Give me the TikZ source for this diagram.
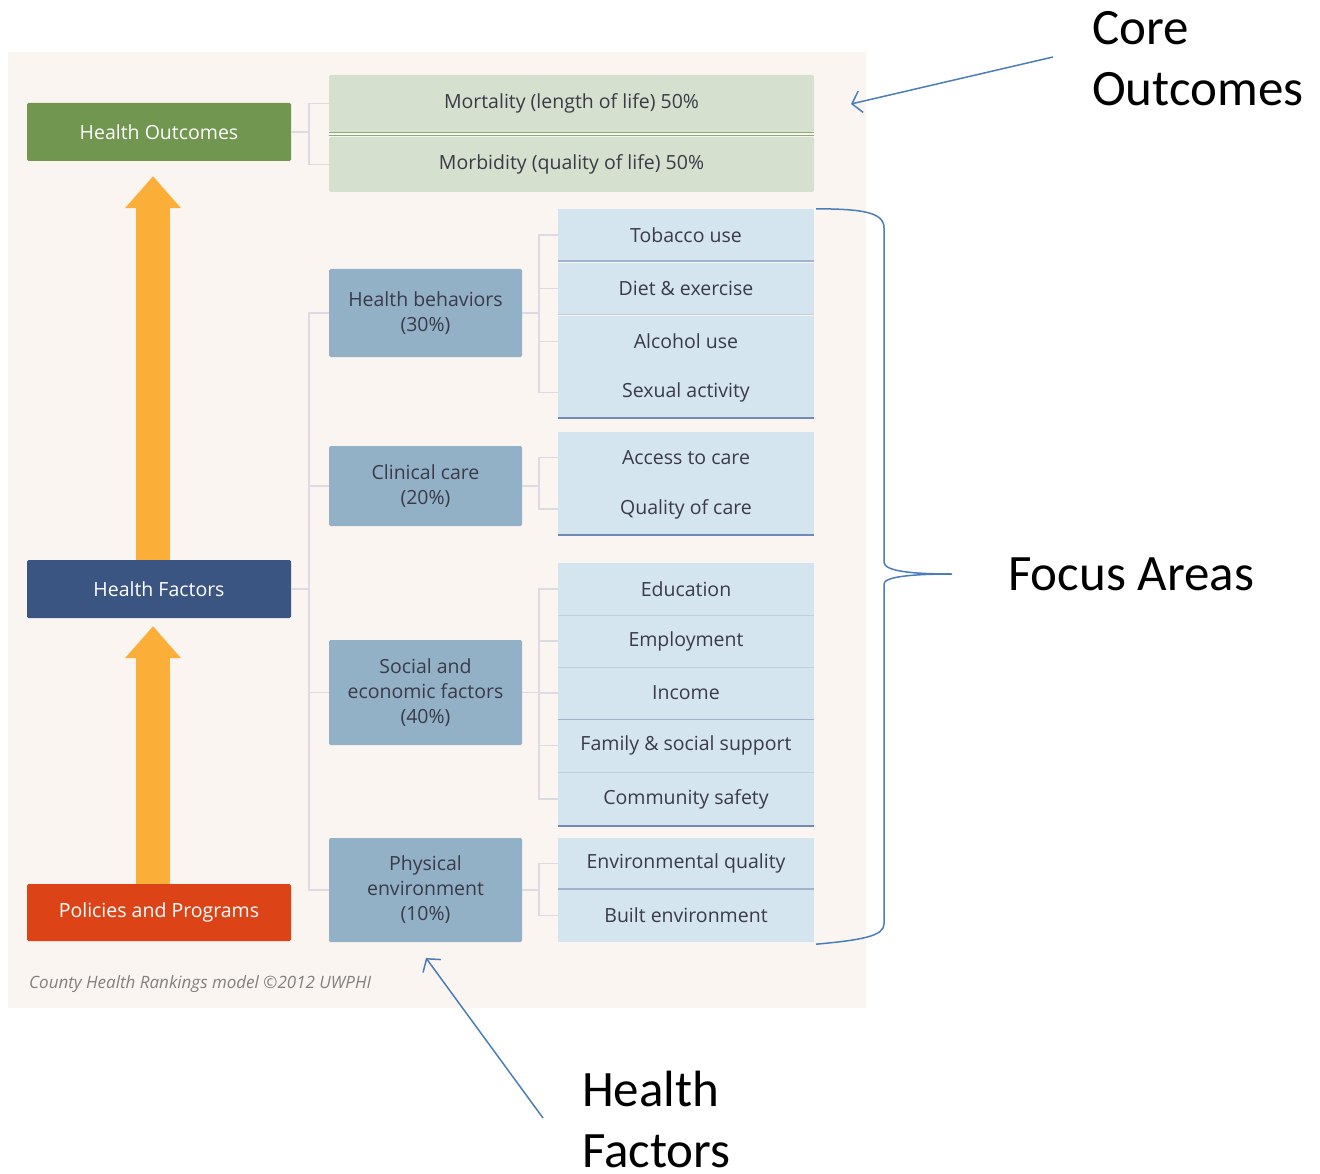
\documentclass[tikz,border=0pt]{standalone}
\usepackage{fontspec}
\setmainfont{Open Sans}
\newfontfamily\callab{Carlito}
\usetikzlibrary{arrows.meta}
\definecolor{bgc}{HTML}{FBF5F1}
\definecolor{outc}{HTML}{71964F}
\definecolor{factc}{HTML}{3B5583}
\definecolor{polc}{HTML}{DC4418}
\definecolor{orng}{HTML}{FBAE38}
\definecolor{greenl}{HTML}{D6E0CE}
\definecolor{greensep}{HTML}{8DAA7B}
\definecolor{midc}{HTML}{93B1C6}
\definecolor{itemc}{HTML}{D5E5EF}
\definecolor{txtc}{HTML}{3A3A48}
\definecolor{connc}{HTML}{DCDBE3}
\definecolor{sepfaint}{HTML}{C5CFDA}
\definecolor{sepmid}{HTML}{A3B1CC}
\definecolor{sepblue}{HTML}{7189B7}
\definecolor{annc}{HTML}{4A7EBB}
\definecolor{footc}{HTML}{808080}
\newcommand\fsz[2]{\fontsize{#1}{#2}\selectfont}
\begin{document}
\begin{tikzpicture}[x=1pt,y=-1pt,
  box/.style={rounded corners=1.5pt, inner sep=0pt, align=center, font=\fsz{19.5}{25}},
  leftbox/.style={box, minimum width=264pt, minimum height=58pt, text=white},
  greenbox/.style={box, fill=greenl, minimum width=485pt, text=txtc},
  midbox/.style={box, fill=midc, minimum width=193pt, text=txtc},
  itembox/.style={box, rounded corners=0pt, fill=itemc, minimum width=256pt, text=txtc},
  conn/.style={draw=connc, line width=1.4pt},
  sepfa/.style={draw=sepfaint, line width=1.2pt},
  sepmd/.style={draw=sepmid, line width=2pt},
  sepbl/.style={draw=sepblue, line width=1.6pt},
  bigarr/.style={draw=orng, line width=34pt, -{Triangle[length=32pt,width=54pt]}},
  annot/.style={draw=annc, line width=1.5pt, -{Straight Barb[length=9pt,width=22pt,line width=1.5pt]}},
  bigtxt/.style={font=\callab\fsz{51}{61}, text=black, inner sep=0pt, align=left}
]
\useasboundingbox (0,0) rectangle (1320,1174);
\fill[bgc] (8,52) rectangle (866,1008);

% left column
\node[leftbox, fill=outc] (ho) at (159,132) {Health Outcomes};
\node[leftbox, fill=factc] (hf) at (159,589) {Health Factors};
\node[leftbox, fill=polc, minimum height=57pt] (pp) at (159,912.5) {Policies and Programs};

% outcomes
\node[greenbox, minimum height=57pt] (mort) at (571.5,103.5) {Mortality (length of life) 50\%};
\node[greenbox, minimum height=55pt] (morb) at (571.5,164.5) {Morbidity (quality of life) 50\%};
\draw[draw=greensep, line width=1.2pt] ([yshift=-0.5pt]mort.south west) -- ([yshift=-0.5pt]mort.south east);
\draw[draw=greensep, line width=1.2pt] ([yshift=1pt]morb.north west) -- ([yshift=1pt]morb.north east);

% factor categories
\node[midbox, minimum height=88pt] (hb) at (425.5,313) {Health behaviors\\(30\%)};
\node[midbox, minimum height=80pt] (cc) at (425.5,486) {Clinical care\\(20\%)};
\node[midbox, minimum height=105pt] (se) at (425.5,692.5) {Social and\\economic factors\\(40\%)};
\node[midbox, minimum height=104pt] (pe) at (425.5,890) {Physical\\environment\\(10\%)};

% items
\node[itembox, minimum height=52pt] (tob) at (686,235) {Tobacco use};
\node[itembox, minimum height=51pt] (diet) at (686,288.5) {Diet \& exercise};
\node[itembox, minimum height=51pt] (alc) at (686,341.5) {Alcohol use};
\node[itembox, minimum height=51pt] (sex) at (686,392.5) {Sexual activity};
\node[itembox, minimum height=51pt] (acc) at (686,457.5) {Access to care};
\node[itembox, minimum height=52pt] (qual) at (686,509) {Quality of care};
\node[itembox, minimum height=52pt] (edu) at (686,589) {Education};
\node[itembox, minimum height=52pt] (emp) at (686,641) {Employment};
\node[itembox, minimum height=52pt] (inc) at (686,693) {Income};
\node[itembox, minimum height=53pt] (fam) at (686,745.5) {Family \& social support};
\node[itembox, minimum height=54pt] (com) at (686,799) {Community safety};
\node[itembox, minimum height=51pt] (envq) at (686,863.5) {Environmental quality};
\node[itembox, minimum height=53pt] (built) at (686,915.5) {Built environment};

% separators
\draw[sepmd] (tob.south west) -- (tob.south east);
\draw[sepfa] (diet.south west) -- (diet.south east);
\draw[sepbl] (sex.south west) -- (sex.south east);
\draw[sepbl] (qual.south west) -- (qual.south east);
\draw[sepfa] (edu.south west) -- (edu.south east);
\draw[sepfa] (emp.south west) -- (emp.south east);
\draw[sepmd, line width=1.2pt] (inc.south west) -- (inc.south east);
\draw[sepfa] (fam.south west) -- (fam.south east);
\draw[sepbl] (com.south west) -- (com.south east);
\draw[sepmd] (envq.south west) -- (envq.south east);

% tree connectors
\draw[conn] (ho.east) -- ++(18,0);
\draw[conn] (mort.west) -- ++(-20,0) |- (morb.west);
\draw[conn] (hf.east) -- ++(18,0);
\draw[conn] (hb.west) -- ++(-20,0) |- (pe.west);
\draw[conn] (cc.west) -- ++(-20,0);
\draw[conn] (se.west) -- ++(-20,0);
\draw[conn] (hb.east) -- ++(17,0);
\draw[conn] (tob.west) -- ++(-19,0) |- (sex.west);
\draw[conn] (diet.west) -- ++(-19,0);
\draw[conn] (alc.west) -- ++(-19,0);
\draw[conn] (cc.east) -- ++(17,0);
\draw[conn] (acc.west) -- ++(-19,0) |- (qual.west);
\draw[conn] (se.east) -- ++(17,0);
\draw[conn] (edu.west) -- ++(-19,0) |- (com.west);
\draw[conn] (emp.west) -- ++(-19,0);
\draw[conn] (inc.west) -- ++(-19,0);
\draw[conn] (fam.west) -- ++(-19,0);
\draw[conn] (pe.east) -- ++(17,0);
\draw[conn] (envq.west) -- ++(-19,0) |- (built.west);

% orange arrows
\draw[bigarr] ([xshift=-6pt]hf.north) -- ([xshift=-6pt,yshift=-15pt]ho.south);
\draw[bigarr] ([xshift=-6pt]pp.north) -- ([xshift=-6pt,yshift=-8pt]hf.south);

% footnote
\node[anchor=base west, inner sep=0pt, text=footc, font=\fsz{17}{20}\itshape] (foot) at (29,988) {County Health Rankings model \textcopyright2012 UWPHI};

% annotations
\node[bigtxt, anchor=west] (core) at (1092,59) {Core\\Outcomes};
\node[bigtxt, anchor=base west] (focus) at (1008,590) {Focus Areas};
\node[bigtxt, anchor=west] (hfac) at (582,1119) {Health\\Factors};

\coordinate (coreS) at (1053,57);
\coordinate (coreT) at (851,104);
\draw[annot] (coreS) -- (coreT);

\coordinate (hfS) at (543,1118);
\coordinate (hfT) at (426,958);
\draw[annot] (hfS) -- (hfT);

\coordinate (braceTip) at (952,574);
\draw[draw=annc, line width=1.5pt]
  ([xshift=2pt]tob.north east) .. controls (862,209) and (884,212) .. (884,228)
  -- (884,562) .. controls (884,571) and (910,574) .. (braceTip)
  .. controls (910,574) and (884,577) .. (884,584)
  -- (884,924) .. controls (884,936) and (862,940) .. ([xshift=2pt,yshift=-2pt]built.south east);
\end{tikzpicture}
\end{document}
